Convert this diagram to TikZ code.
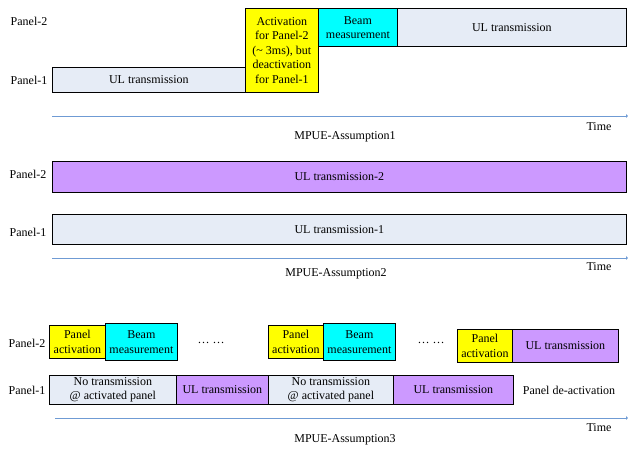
\documentclass[tikz,border=0pt]{standalone}
\usepackage{fontspec}
\setmainfont{Liberation Serif}
\usepackage{tikz}
\usetikzlibrary{arrows.meta}
\definecolor{ulgray}{HTML}{E6ECF6}
\definecolor{ulpurple}{HTML}{CC99FF}
\definecolor{beamcyan}{HTML}{00FFFF}
\definecolor{actyellow}{HTML}{FFFF00}
\definecolor{timeblue}{HTML}{6F9BD4}

\begin{document}
\begin{tikzpicture}[x=1pt,y=-1pt,>={Latex[length=2pt,width=4pt]},
		slot/.style={draw=black, line width=0.8pt, inner sep=1pt, anchor=north west, align=center, font=\fontsize{12}{14.5}\selectfont},
		lbl/.style={inner sep=0pt, font=\fontsize{12}{14.5}\selectfont},
		timeline/.style={->, timeblue, line width=1pt}]
	\useasboundingbox (0,0) rectangle (628,448);

	\node[lbl] (a1p2) at (29,21) {Panel-2};
	\node[lbl] (a1p1) at (29,80) {Panel-1};
	\node[slot, fill=ulgray, minimum width=193, minimum height=25] (a1ul) at (52,67) {UL transmission};
	\node[slot, fill=actyellow, minimum width=73, minimum height=84] (a1act) at (245,8) {Activation\\for Panel-2\\(\textasciitilde{} 3ms), but\\deactivation\\for Panel-1};
	\node[slot, fill=beamcyan, minimum width=79, minimum height=38] (a1beam) at (318,8) {Beam\\measurement};
	\node[slot, fill=ulgray, minimum width=229, minimum height=38] (a1ul2) at (397,8) {UL transmission};
	\coordinate (t1s) at (52,116);
	\coordinate (t1e) at (628,116);
	\draw[timeline] (t1s) -- (t1e);
	\node[lbl] (a1time) at (599,127) {Time};
	\node[lbl] (a1name) at (345,137) {MPUE-Assumption1};

	\node[lbl] (a2p2) at (28,174) {Panel-2};
	\node[lbl] (a2p1) at (28,232) {Panel-1};
	\node[slot, fill=ulpurple, minimum width=574, minimum height=31] (a2ul2) at (52,161) {UL transmission-2};
	\node[slot, fill=ulgray, minimum width=574, minimum height=30] (a2ul1) at (52,214) {UL transmission-1};
	\coordinate (t2s) at (52,258);
	\coordinate (t2e) at (628,258);
	\draw[timeline] (t2s) -- (t2e);
	\node[lbl] (a2time) at (599,267) {Time};
	\node[lbl] (a2name) at (336,274) {MPUE-Assumption2};

	\node[lbl] (a3p2) at (27,343) {Panel-2};
	\node[lbl] (a3p1) at (27,390) {Panel-1};
	\node[slot, fill=actyellow, minimum width=56, minimum height=33] (a3act1) at (49,325) {Panel\\activation};
	\node[slot, fill=beamcyan, minimum width=72, minimum height=37] (a3beam1) at (105,323) {Beam\\measurement};
	\node[lbl] (a3dots1) at (211,343) {\dots{} \dots};
	\node[slot, fill=actyellow, minimum width=55, minimum height=33] (a3act2) at (268,325) {Panel\\activation};
	\node[slot, fill=beamcyan, minimum width=72, minimum height=37] (a3beam2) at (323,323) {Beam\\measurement};
	\node[lbl] (a3dots2) at (431,343) {\dots{} \dots};
	\node[slot, fill=actyellow, minimum width=55, minimum height=33] (a3act3) at (457,329) {Panel\\activation};
	\node[slot, fill=ulpurple, minimum width=106, minimum height=33] (a3ul3) at (512,329) {UL transmission};
	\node[slot, fill=ulgray, minimum width=127, minimum height=29] (a3none1) at (49,375) {No transmission\\@ activated panel};
	\node[slot, fill=ulpurple, minimum width=92, minimum height=29] (a3ul1) at (176,375) {UL transmission};
	\node[slot, fill=ulgray, minimum width=125, minimum height=29] (a3none2) at (268,375) {No transmission\\@ activated panel};
	\node[slot, fill=ulpurple, minimum width=120, minimum height=29] (a3ul2) at (393,375) {UL transmission};
	\node[lbl] (a3deact) at (569,390) {Panel de-activation};
	\coordinate (t3s) at (55,418);
	\coordinate (t3e) at (628,418);
	\draw[timeline] (t3s) -- (t3e);
	\node[lbl] (a3time) at (599,428) {Time};
	\node[lbl] (a3name) at (345,440) {MPUE-Assumption3};
\end{tikzpicture}
\end{document}
